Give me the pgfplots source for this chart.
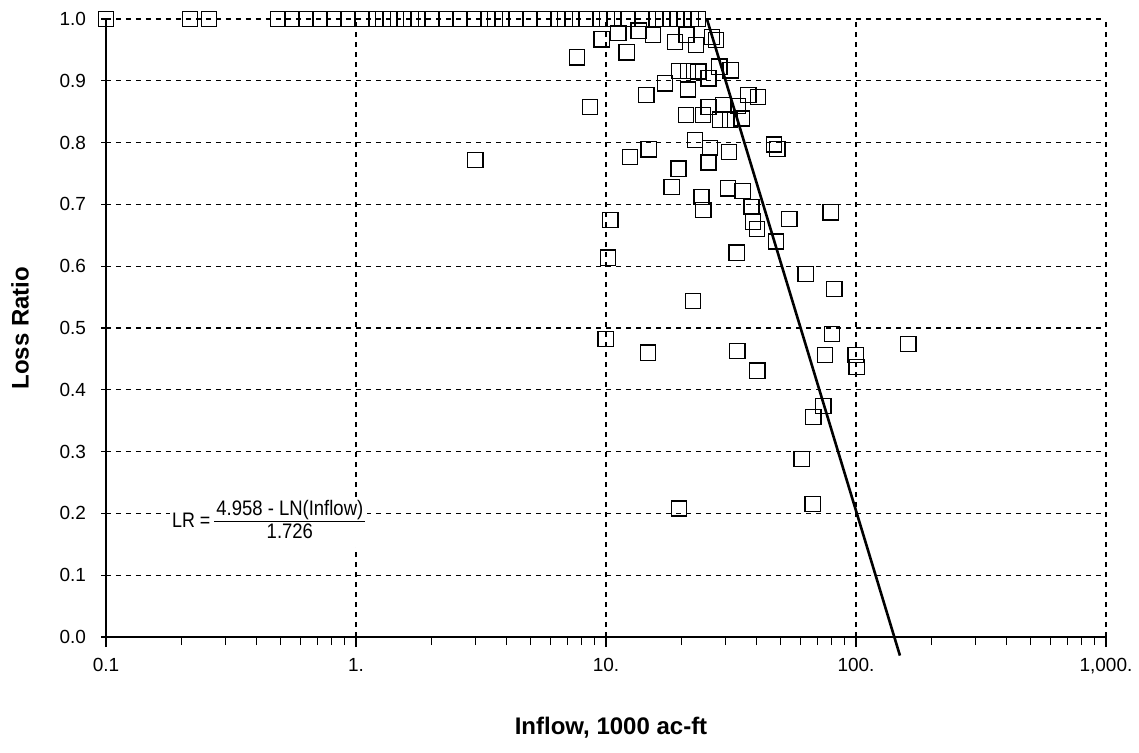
\documentclass[border=0pt]{standalone}
\usepackage{fontspec}
\setmainfont{Liberation Sans}
\usepackage{graphicx}
\usepackage{pgfplots}
\pgfplotsset{compat=1.18}
\pgfplotstableread{
x y
0.1 1
0.217 1
0.258 1
0.488 1
0.555 1
0.631 1
0.718 1
0.817 1
0.929 1
1.057 1
1.202 1
1.282 1
1.368 1
1.556 1
1.66 1
1.770 1
2.014 1
2.291 1
2.606 1
2.965 1
3.373 1
3.597 1
3.837 1
4.365 1
4.966 1
5.649 1
6.427 1
6.855 1
7.311 1
8.318 1
9.462 1
10.09 1
10.76 1
12.25 1
13.93 1
15.85 1
16.9 1
18.03 1
19.23 1
20.51 1
21.88 1
23.33 1
9.61 0.967
11.2 0.977
13.5 0.981
15.4 0.974
18.9 0.963
22.9 0.958
21.0 0.974
26.5 0.971
27.5 0.966
7.67 0.938
12.1 0.946
8.63 0.858
14.5 0.877
17.2 0.896
19.6 0.916
21.3 0.916
21.3 0.886
25.7 0.904
28.4 0.923
31.5 0.917
23.4 0.915
37.1 0.877
40.6 0.874
20.9 0.845
24.4 0.845
25.7 0.858
29.5 0.861
33.8 0.859
28.6 0.837
31.3 0.837
34.9 0.839
22.7 0.804
26.1 0.791
31.1 0.785
12.5 0.777
14.8 0.789
25.7 0.768
19.5 0.758
18.3 0.728
30.8 0.726
35.2 0.722
24.1 0.712
24.5 0.691
38.2 0.696
10.4 0.675
38.8 0.672
40.1 0.660
54.1 0.676
79.2 0.687
10.2 0.614
33.3 0.622
47.9 0.640
62.9 0.587
81.9 0.563
22.3 0.544
9.97 0.482
14.7 0.460
33.5 0.463
40.3 0.431
80.0 0.490
75.2 0.456
99.6 0.456
100.6 0.437
161.9 0.474
74.0 0.374
67.5 0.356
60.6 0.288
67.1 0.215
19.6 0.208
3.0 0.772
47.0 0.797
48.5 0.790
}\lossdata
\begin{document}
\begin{tikzpicture}
\begin{axis}[
  scale only axis, width=500pt, height=309pt,
  xmode=log, xmin=0.1, xmax=1000, ymin=0, ymax=1,
  axis x line=bottom, axis y line=left,
  axis line style={-, line width=0.8pt, black},
  xtick={0.1,1,10,100,1000},
  xticklabels={0.1,1.,10.,100.,{1,000.}},
  ytick={0,0.1,0.2,0.3,0.4,0.5,0.6,0.7,0.8,0.9,1.0},
  yticklabels={0.0,0.1,0.2,0.3,0.4,0.5,0.6,0.7,0.8,0.9,1.0},
  grid=major,
  major grid style={dash pattern=on 2.5pt off 2.5pt, line width=0.6pt, black},
  tick style={black, line width=0.6pt},
  xtick align=outside, major tick length=5pt, minor tick length=4pt,
  ytick align=center,
  ticklabel style={font=\fontsize{9.5}{11}\selectfont},
  xticklabel style={yshift=-2pt},
  yticklabel style={xshift=-4pt},
  xlabel={Inflow, 1000 ac-ft}, ylabel={Loss Ratio},
  label style={font=\bfseries\fontsize{12}{14}\selectfont},
  xlabel style={at={(axis description cs:0.505,-0.147)}, anchor=center},
  ylabel style={at={(axis description cs:-0.086,0.5)}, anchor=center},
  clip=false,
]
\addplot[black, line width=1.3pt, no marks] coordinates {(25.33,1) (149.9,-0.03)};
\addplot[only marks, mark=square, mark size=3.8pt, mark options={line width=0.65pt, black, fill=none}] table[x=x, y=y] {\lossdata};
\node[anchor=west, inner sep=1pt, fill=white, font=\fontsize{10.5}{12}\selectfont] at (axis cs:0.18,0.186)
  {\scalebox{0.85}[1]{LR =}\hspace{2pt}\renewcommand{\arraystretch}{1.0}\begin{tabular}{@{\hspace{1pt}}c@{\hspace{1pt}}}\scalebox{0.88}[1]{4.958 - LN(Inflow)}\\[-1pt]\hline \scalebox{0.88}[1]{1.726}\end{tabular}};
\end{axis}
\pgfresetboundingbox
\useasboundingbox (-53pt,-57.5pt) rectangle (516.5pt,318.5pt);
\end{tikzpicture}
\end{document}
